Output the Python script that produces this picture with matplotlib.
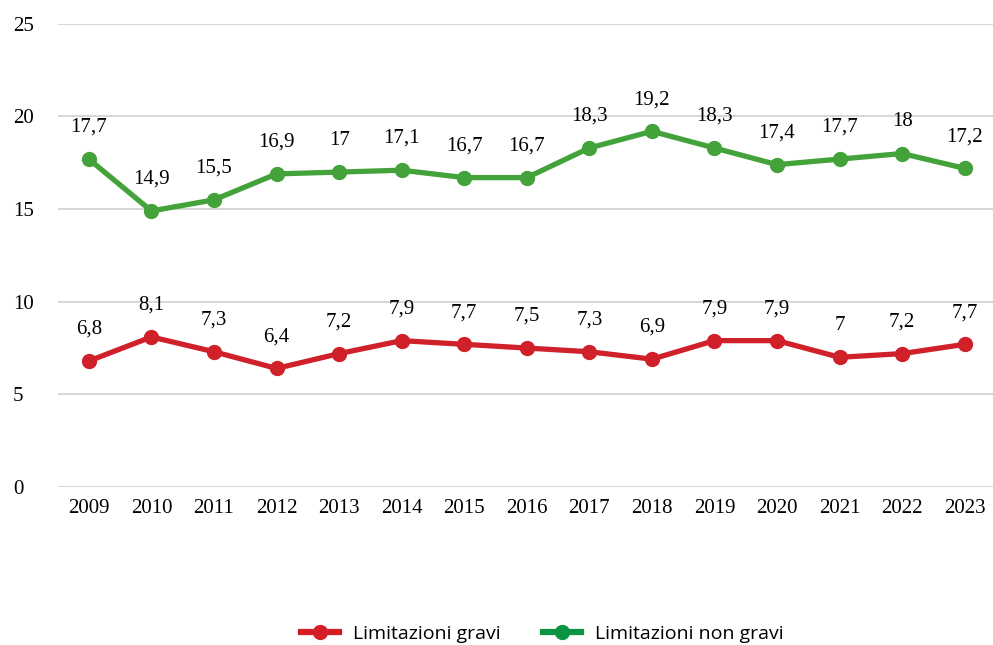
import matplotlib
matplotlib.use('Agg')
import matplotlib.pyplot as plt
from matplotlib.lines import Line2D

years = [2009, 2010, 2011, 2012, 2013, 2014, 2015, 2016, 2017, 2018, 2019, 2020, 2021, 2022, 2023]
gravi = [6.8, 8.1, 7.3, 6.4, 7.2, 7.9, 7.7, 7.5, 7.3, 6.9, 7.9, 7.9, 7.0, 7.2, 7.7]
non_gravi = [17.7, 14.9, 15.5, 16.9, 17.0, 17.1, 16.7, 16.7, 18.3, 19.2, 18.3, 17.4, 17.7, 18.0, 17.2]

red = '#d0202a'
green = '#43a33a'
red_leg = '#d41f26'
green_leg = '#0a9444'

def fmt(v):
    s = ('%.1f' % v).rstrip('0').rstrip('.')
    return s.replace('.', ',')

fig = plt.figure(figsize=(9.93, 6.45), dpi=100)
ax = fig.add_axes([0.058, 0.245, 0.945, 0.718])

x = list(range(len(years)))
ax.plot(x, gravi, color=red, lw=3.8, marker='o', ms=10, zorder=3)
ax.plot(x, non_gravi, color=green, lw=3.8, marker='o', ms=10, zorder=3)

for xi, v in zip(x, gravi):
    ax.annotate(fmt(v), (xi, v), xytext=(0, 16), textcoords='offset points',
                ha='center', va='bottom', fontsize=15, family='Liberation Serif')
for xi, v in zip(x, non_gravi):
    ax.annotate(fmt(v), (xi, v), xytext=(0, 16), textcoords='offset points',
                ha='center', va='bottom', fontsize=15, family='Liberation Serif')

ax.set_xlim(-0.5, len(years) - 0.5)
ax.set_ylim(0, 25)
ax.set_yticks([0, 5, 10, 15, 20, 25])
ax.set_xticks(x)
ax.set_xticklabels([str(y) for y in years])
for lab in ax.get_xticklabels() + ax.get_yticklabels():
    lab.set_family('Liberation Serif')
    lab.set_fontsize(15)
ax.tick_params(axis='both', length=0)
ax.tick_params(axis='y', pad=32)
ax.tick_params(axis='x', pad=9)
for lab in ax.get_yticklabels():
    lab.set_horizontalalignment('left')
ax.grid(axis='y', color='#d0d0d0', lw=1.2)
ax.set_axisbelow(True)
for s in ax.spines.values():
    s.set_visible(False)

handles = [Line2D([0], [0], color=red_leg, lw=4.5, marker='o', ms=10),
           Line2D([0], [0], color=green_leg, lw=4.5, marker='o', ms=10)]
fig.legend(handles, ['Limitazioni gravi', 'Limitazioni non gravi'], loc='center',
           bbox_to_anchor=(0.546, 0.017), ncol=2, frameon=False,
           prop={'family': 'Open Sans', 'size': 14}, handlelength=1.95,
           handletextpad=0.7, columnspacing=2.2)

fig.savefig('out.png', dpi=100)
